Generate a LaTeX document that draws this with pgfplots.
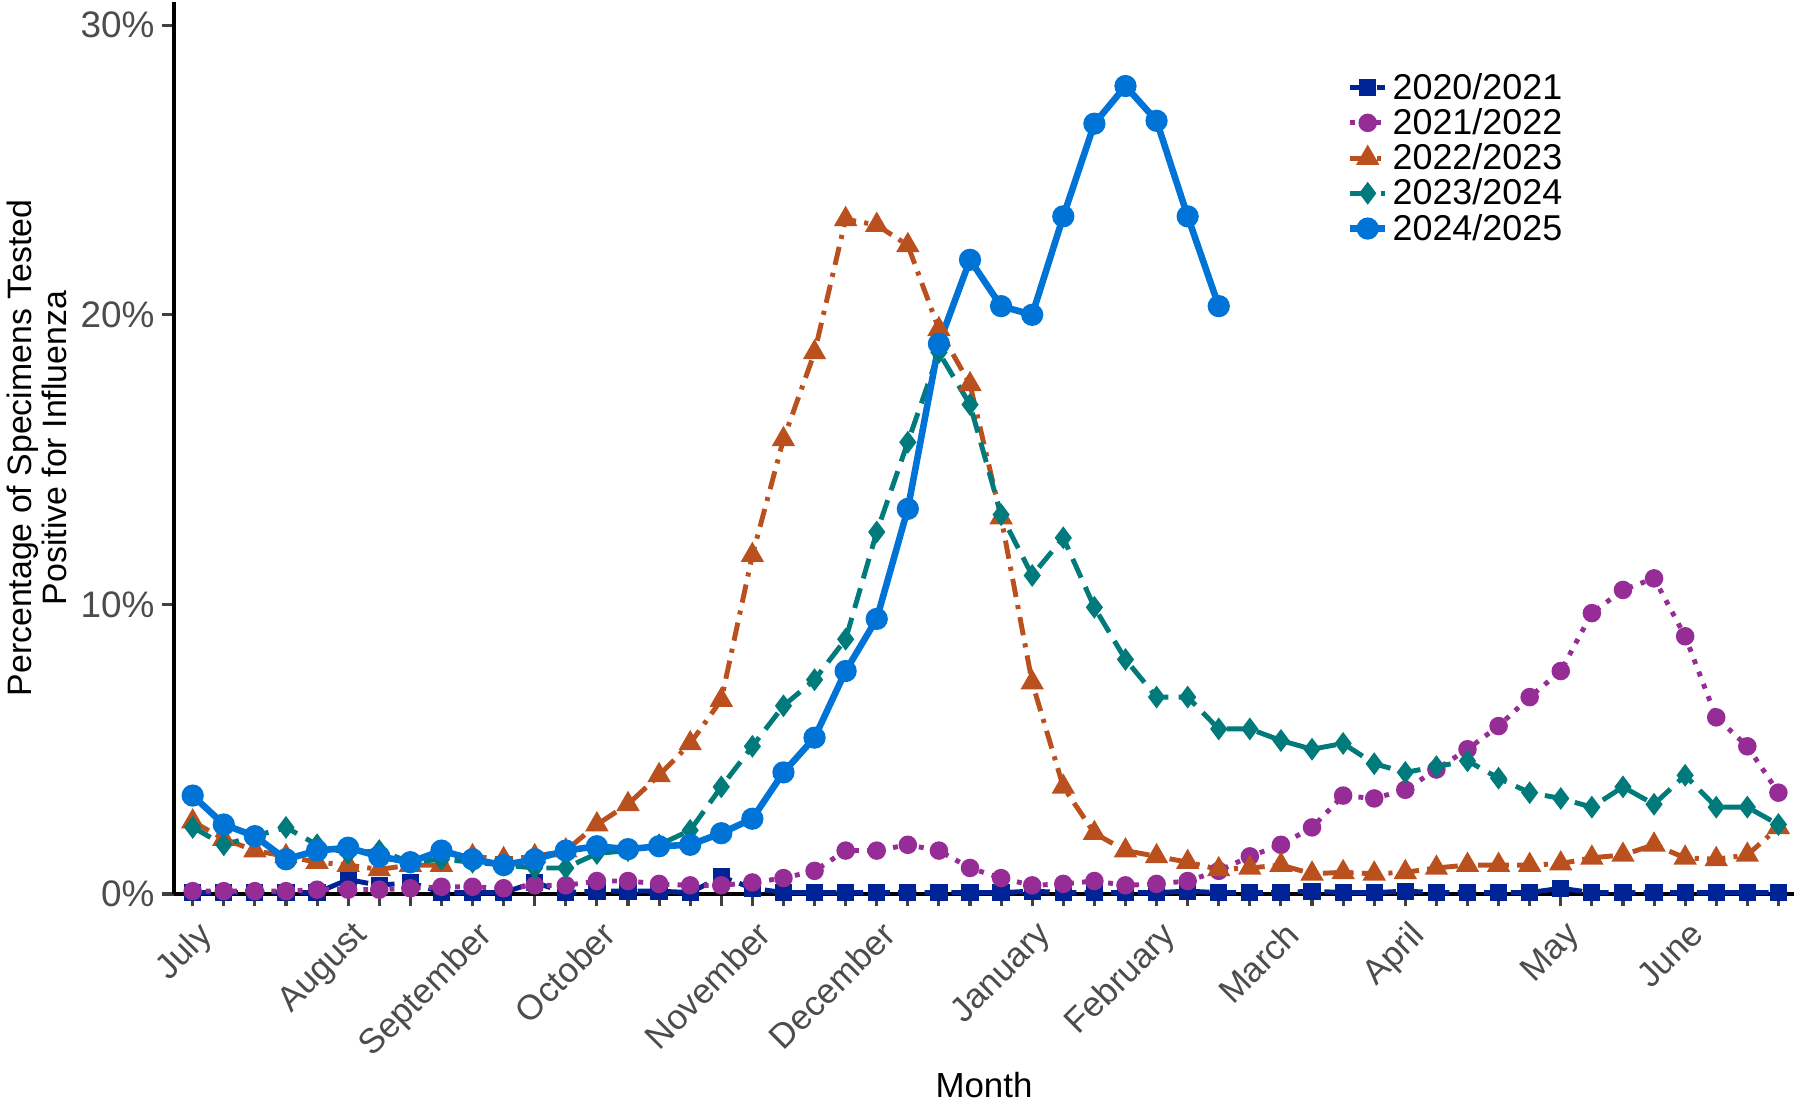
\documentclass[border=0pt]{standalone}
\usepackage{pgfplots}
\pgfplotsset{compat=1.18}
\usepackage{fontspec}
\setmainfont{Liberation Sans}
\definecolor{cA}{RGB}{0,35,150}
\definecolor{cB}{RGB}{150,45,150}
\definecolor{cC}{RGB}{185,80,30}
\definecolor{cD}{RGB}{0,122,122}
\definecolor{cE}{RGB}{0,115,215}
\begin{document}
\begin{tikzpicture}
\begin{axis}[
  scale only axis, width=790pt, height=435pt,
  axis lines=left, axis line style={line width=2pt,-},
  xmin=-0.6, xmax=51.5, ymin=0, ymax=30.8,
  xtick={0,5,9,13,18,22,27,31,35,39,44,48},
  xticklabels={July,August,September,October,November,December,January,February,March,April,May,June},
  minor xtick={0,...,51},
  ytick={0,10,20,30}, yticklabels={0\%,10\%,20\%,30\%},
  tick align=outside, major tick length=6pt, minor tick length=6pt,
  tick style={line width=1.5pt,color=black!75},
  x tick label style={rotate=45,anchor=north east,font=\fontsize{17}{17}\selectfont,text=black!70,yshift=-2pt},
  y tick label style={font=\fontsize{18}{18}\selectfont,text=black!70},
  xlabel={Month}, xlabel style={font=\fontsize{17}{17}\selectfont,yshift=4pt},
  ylabel={Percentage of Specimens Tested\\Positive for Influenza},
  ylabel style={align=center,font=\fontsize{16.5}{17}\selectfont},
  legend style={draw=none,at={(0.72,0.93)},anchor=north west,font=\fontsize{17.5}{15}\selectfont,row sep=-1pt,fill=none},
  legend cell align=left,
  every axis plot/.append style={line width=2.4pt},
  clip=false
]
\addplot[cA,dash pattern=on 9pt off 4pt,mark=square*,mark size=3pt,mark options={solid}] coordinates {
(0,0.05)(1,0.05)(2,0.05)(3,0.05)(4,0.05)(5,0.5)(6,0.3)(7,0.4)(8,0.05)(9,0.05)(10,0.05)(11,0.4)(12,0.05)(13,0.1)(14,0.1)(15,0.1)(16,0.05)(17,0.6)(18,0.2)(19,0.05)(20,0.05)(21,0.05)(22,0.05)(23,0.05)(24,0.05)(25,0.05)(26,0.05)(27,0.1)(28,0.05)(29,0.05)(30,0.05)(31,0.05)(32,0.1)(33,0.05)(34,0.05)(35,0.05)(36,0.1)(37,0.05)(38,0.05)(39,0.1)(40,0.05)(41,0.05)(42,0.05)(43,0.05)(44,0.2)(45,0.05)(46,0.05)(47,0.05)(48,0.05)(49,0.05)(50,0.05)(51,0.05)};
\addlegendentry{2020/2021}
\addplot[cB,dash pattern=on 2.4pt off 4pt,mark=*,mark size=3.3pt,mark options={solid}] coordinates {
(0,0.1)(1,0.1)(2,0.1)(3,0.1)(4,0.15)(5,0.15)(6,0.15)(7,0.2)(8,0.25)(9,0.25)(10,0.2)(11,0.3)(12,0.3)(13,0.45)(14,0.45)(15,0.35)(16,0.3)(17,0.3)(18,0.4)(19,0.55)(20,0.8)(21,1.5)(22,1.5)(23,1.7)(24,1.5)(25,0.9)(26,0.55)(27,0.3)(28,0.35)(29,0.45)(30,0.3)(31,0.35)(32,0.45)(33,0.8)(34,1.3)(35,1.7)(36,2.3)(37,3.4)(38,3.3)(39,3.6)(40,4.3)(41,5.0)(42,5.8)(43,6.8)(44,7.7)(45,9.7)(46,10.5)(47,10.9)(48,8.9)(49,6.1)(50,5.1)(51,3.5)};
\addlegendentry{2021/2022}
\addplot[cC,dash pattern=on 9pt off 4pt on 2pt off 4pt,mark=triangle*,mark size=4.2pt,mark options={solid}] coordinates {
(0,2.5)(1,1.9)(2,1.5)(3,1.3)(4,1.1)(5,1.0)(6,0.85)(7,1.0)(8,1.0)(9,1.3)(10,1.2)(11,1.3)(12,1.5)(13,2.4)(14,3.1)(15,4.1)(16,5.2)(17,6.7)(18,11.7)(19,15.7)(20,18.7)(21,23.3)(22,23.1)(23,22.4)(24,19.5)(25,17.6)(26,13.0)(27,7.3)(28,3.7)(29,2.1)(30,1.5)(31,1.3)(32,1.1)(33,0.85)(34,0.9)(35,1.0)(36,0.7)(37,0.75)(38,0.7)(39,0.75)(40,0.9)(41,1.0)(42,1.0)(43,1.0)(44,1.05)(45,1.25)(46,1.35)(47,1.7)(48,1.25)(49,1.2)(50,1.35)(51,2.3)};
\addlegendentry{2022/2023}
\addplot[cD,dash pattern=on 10pt off 5pt,mark=diamond*,mark size=3.6pt,mark options={solid}] coordinates {
(0,2.3)(1,1.7)(2,2.0)(3,2.3)(4,1.7)(5,1.4)(6,1.5)(7,1.1)(8,1.2)(9,1.1)(10,1.0)(11,0.9)(12,0.9)(13,1.4)(14,1.5)(15,1.7)(16,2.2)(17,3.7)(18,5.1)(19,6.5)(20,7.4)(21,8.8)(22,12.5)(23,15.6)(24,18.7)(25,16.9)(26,13.1)(27,11.0)(28,12.3)(29,9.9)(30,8.1)(31,6.8)(32,6.8)(33,5.7)(34,5.7)(35,5.3)(36,5.0)(37,5.2)(38,4.5)(39,4.2)(40,4.4)(41,4.6)(42,4.0)(43,3.5)(44,3.3)(45,3.0)(46,3.7)(47,3.1)(48,4.1)(49,3.0)(50,3.0)(51,2.4)};
\addlegendentry{2023/2024}
\addplot[cE,solid,line width=3.2pt,mark=*,mark size=3.8pt] coordinates {
(0,3.4)(1,2.4)(2,2.0)(3,1.2)(4,1.5)(5,1.6)(6,1.3)(7,1.1)(8,1.5)(9,1.2)(10,1.0)(11,1.2)(12,1.5)(13,1.65)(14,1.55)(15,1.65)(16,1.7)(17,2.1)(18,2.6)(19,4.2)(20,5.4)(21,7.7)(22,9.5)(23,13.3)(24,19.0)(25,21.9)(26,20.3)(27,20.0)(28,23.4)(29,26.6)(30,27.9)(31,26.7)(32,23.4)(33,20.3)};
\addlegendentry{2024/2025}
\end{axis}
\end{tikzpicture}
\end{document}
